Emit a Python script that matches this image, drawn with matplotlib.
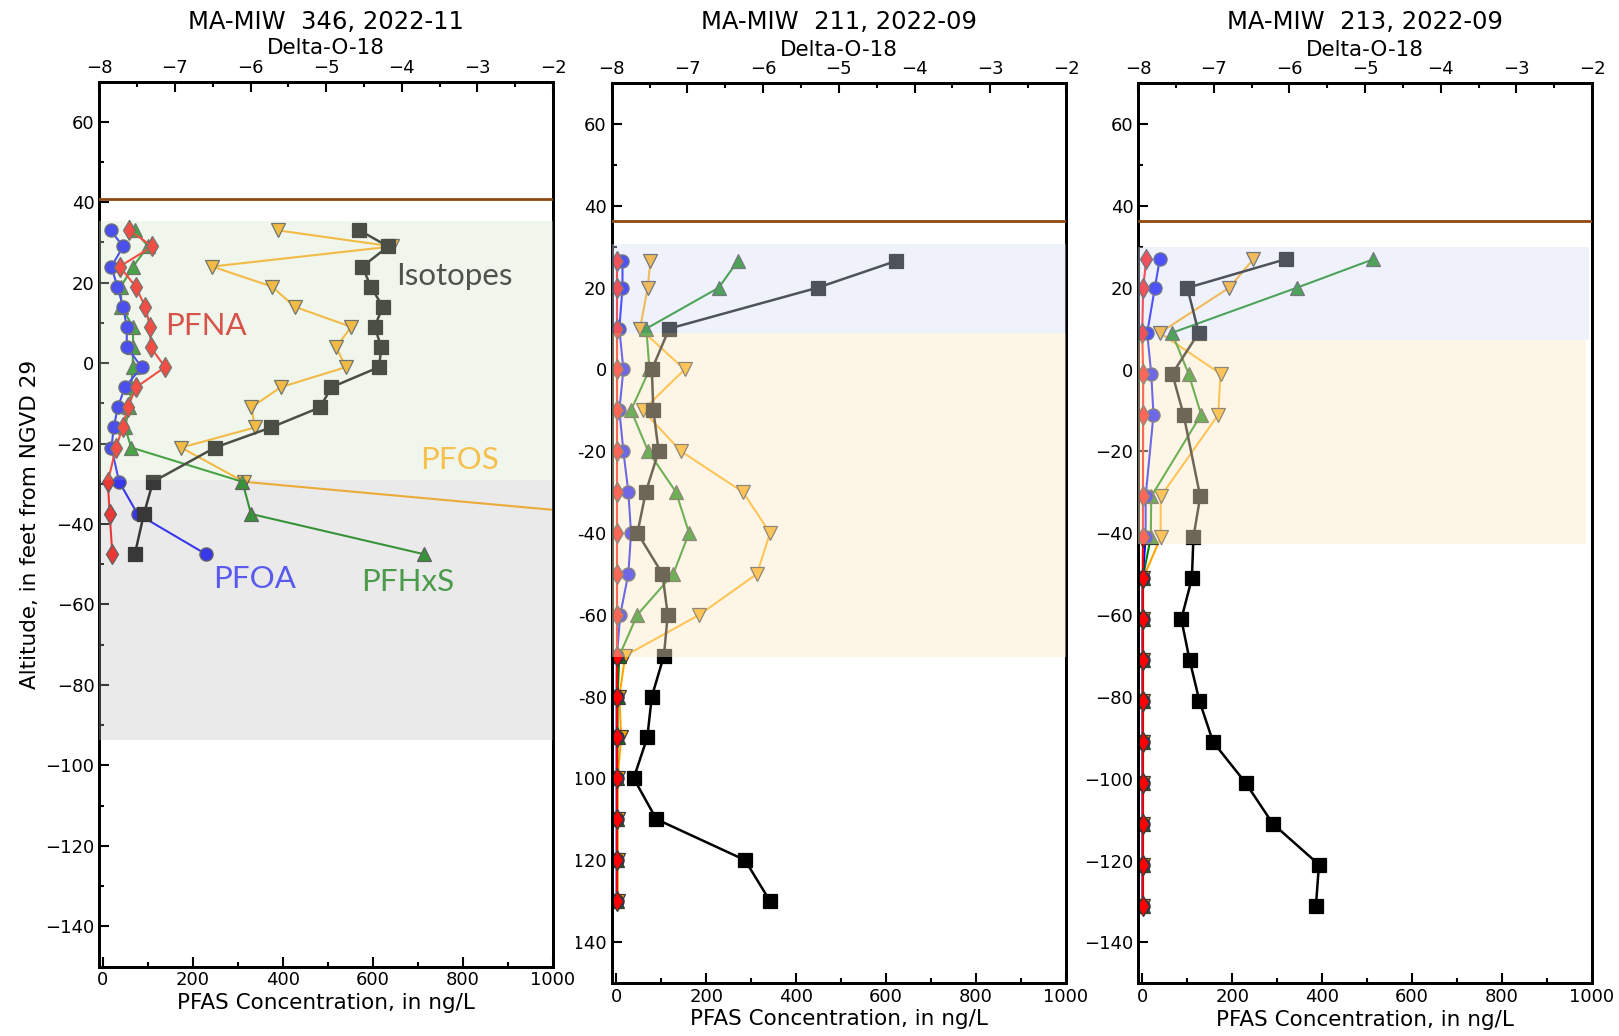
import matplotlib
matplotlib.use("Agg")
import matplotlib.pyplot as plt
from matplotlib.ticker import MultipleLocator, FuncFormatter
from matplotlib.transforms import Bbox, TransformedBbox

# ---------------- data ----------------
# MA-MIW 346, 2022-11
depth_346 = [33, 29, 24, 19, 14, 9, 4, -1, -6, -11, -16, -21, -29.5, -37.5, -47.5]
pfoa_346 = [17, 45, 19, 32, 45, 53, 53, 86, 49, 33, 24, 19, 36, 77, 229]
pfna_346 = [59, 110, 37, 73, 94, 105, 106, 138, 74, 55, 44, 29, 11, 15, 21]
pfhxs_346 = [71, 100, 67, 40, 41, 67, 67, 66, 63, 59, 49, 63, 310, 329, 713]
pfos_346 = [388, 643, 243, 376, 426, 552, 518, 540, 395, 330, 338, 174, 313, 1100, 1600]
d18o_346 = [-4.56, -4.18, -4.52, -4.41, -4.25, -4.36, -4.27, -4.30, -4.93, -5.08,
            -5.73, -6.47, -7.29, -7.41, -7.53]

# MA-MIW 211, 2022-09
depth_211 = [26.5, 20, 10, 0, -10, -20, -30, -40, -50, -60, -70, -80, -90, -100, -110, -120, -130]
pfoa_211 = [14, 14, 7, 16, 7, 16, 27, 33, 27, 9, 1.5, 1, 1, 1, 1, 1, 1]
pfna_211 = [1, 1, 1, 1, 1, 1, 1, 1, 1, 1, 1, 1, 1, 1, 1, 1, 1]
pfhxs_211 = [270, 228, 67, 74, 33, 71, 133, 162, 127, 47, 7, 3, 3, 2, 2, 2, 2]
pfos_211 = [76, 70, 53, 152, 59, 144, 282, 342, 313, 185, 20, 7, 11, 3, 3, 3, 3]
d18o_211 = [-4.25, -5.28, -7.24, -7.47, -7.45, -7.38, -7.55, -7.66, -7.33, -7.26,
            -7.31, -7.47, -7.53, -7.71, -7.41, -6.24, -5.91]

# MA-MIW 213, 2022-09
depth_213 = [27, 20, 9, -1, -11, -31, -41, -51, -61, -71, -81, -91, -101, -111, -121, -131]
pfoa_213 = [39, 28, 11, 20, 25, 7.5, 7.5, 1, 1, 1, 1, 1, 1, 1, 1, 1]
pfna_213 = [9, 2, 0, 2, 2, 1.5, 1.5, 1, 1, 1, 1, 1, 1, 1, 1, 1]
pfhxs_213 = [514, 343, 66, 103, 131, 20, 19, 1, 1, 1, 1, 1, 1, 1, 1, 1]
pfos_213 = [247, 193, 39, 174, 169, 41, 41, 2, 2, 2, 2, 2, 2, 2, 2, 2]
d18o_213 = [-6.05, -7.35, -7.20, -7.55, -7.40, -7.18, -7.27, -7.29, -7.43, -7.32,
            -7.19, -7.01, -6.58, -6.22, -5.61, -5.65]

titles = ["MA-MIW  346, 2022-11", "MA-MIW  211, 2022-09", "MA-MIW  213, 2022-09"]
land_surface = [40.8, 36.4, 36.3]

# shaded screened/aquifer zones: (top, bottom, xmax fraction, rgb, alpha)
zones_346 = [(35.3, -29.0, 1.0, (216, 230, 205), 0.345),
             (-29.0, -93.6, 1.0, (188, 188, 188), 0.30)]
zones_211 = [(30.7, 9.0, 1.0, (212, 222, 245), 0.373),
             (9.0, -70.3, 1.0, (252, 236, 200), 0.44)]
zones_213 = [(29.9, 7.2, 0.993, (212, 222, 245), 0.373),
             (7.2, -42.5, 0.986, (252, 236, 200), 0.44)]

# ---------------- figure ----------------
W, H = 1619, 1036
fig = plt.figure(figsize=(W / 100, H / 100), dpi=100)

# axes boxes in pixels: left, right, top, bottom
boxes = [(99.3, 553.0, 81.5, 966.5),
         (611.7, 1066.0, 83.3, 982.7),
         (1138.2, 1592.0, 83.3, 983.3)]
xmins = [-8, -10, -9]

C_PFOA = "#0000ff"
C_PFNA = "#ff0000"
C_PFHXS = "#008000"
C_PFOS = "#ffa500"
EDGE = "#3a3a3a"

panels = [
    (depth_346, pfoa_346, pfna_346, pfhxs_346, pfos_346, d18o_346, zones_346),
    (depth_211, pfoa_211, pfna_211, pfhxs_211, pfos_211, d18o_211, zones_211),
    (depth_213, pfoa_213, pfna_213, pfhxs_213, pfos_213, d18o_213, zones_213),
]

axes = []
for i, (box, panel) in enumerate(zip(boxes, panels)):
    l, r, t, b = box
    ax = fig.add_axes([l / W, 1 - b / H, (r - l) / W, (b - t) / H])
    depth, pfoa, pfna, pfhxs, pfos, d18o, zones = panel

    ax.set_xlim(xmins[i], 1000)
    ax.set_ylim(-150, 70)
    ax.xaxis.set_major_locator(MultipleLocator(200))
    ax.xaxis.set_minor_locator(MultipleLocator(100))
    ax.yaxis.set_major_locator(MultipleLocator(20))
    ax.yaxis.set_minor_locator(MultipleLocator(10))
    ax.tick_params(which="both", direction="in", labelsize=13, width=1.5,
                   top=False, right=False, colors="black")
    ax.tick_params(which="major", length=7)
    ax.tick_params(which="minor", length=3.5)
    if i == 1:
        ax.yaxis.set_major_formatter(FuncFormatter(lambda v, p: f"{int(round(v))}"))

    mk = dict(markeredgecolor=EDGE, markeredgewidth=0.9, lw=1.5)
    ax.plot(pfos, depth, marker="v", ms=10, color=C_PFOS, **mk)
    ax.plot(pfhxs, depth, marker="^", ms=10, color=C_PFHXS, **mk)
    ax.plot(pfoa, depth, marker="o", ms=9.5, color=C_PFOA, **mk)
    ax.plot(pfna, depth, marker="d", ms=10.5, color=C_PFNA, **mk)

    ax.set_xlabel("PFAS Concentration, in ng/L", fontsize=15.5, labelpad=2.5)
    if i == 0:
        ax.set_ylabel("Altitude, in feet from NGVD 29", fontsize=15.5)

    ax2 = ax.twiny()
    ax2.set_xlim(-8, -2)
    ax2.xaxis.set_major_locator(MultipleLocator(1))
    ax2.xaxis.set_minor_locator(MultipleLocator(0.5))
    ax2.tick_params(which="both", direction="in", labelsize=13, width=1.5)
    ax2.tick_params(which="major", length=7)
    ax2.tick_params(which="minor", length=3.5)
    ax2.set_xlabel("Delta-O-18", fontsize=15.5, labelpad=3)

    ax2.plot(d18o, depth, marker="s", ms=10, color="black",
             markeredgecolor="black", markeredgewidth=0.9, lw=1.8)

    ax2.axhline(land_surface[i], color="#8b4a14", lw=2.0, zorder=4)

    for top, bot, xmax, rgb, a in zones:
        ax2.axhspan(bot, top, xmin=0, xmax=xmax,
                    facecolor=tuple(c / 255 for c in rgb), alpha=a,
                    lw=0, zorder=6)

    for a_ in (ax, ax2):
        for sp in a_.spines.values():
            sp.set_linewidth(2.0)

    fig.text(((l + r) / 2) / W, 1 - 28.8 / H, titles[i], ha="center",
             va="baseline", fontsize=17.5)
    axes.append((ax, ax2))

# series labels on the first panel
ax, ax2 = axes[0]
lab = dict(transform=ax.transData, fontsize=22.5, family="Lato",
           ha="left", va="baseline", zorder=8)
ax2.text(651, 19.5, "Isotopes", color="#4d524d", **lab)
ax2.text(138, 7.0, "PFNA", color="#d6544c", **lab)
ax2.text(705, -26.4, "PFOS", color="#f6c04c", **lab)
ax2.text(245, -55.9, "PFOA", color="#5a5aee", **lab)
ax2.text(574, -56.6, "PFHxS", color="#4c9a4c", **lab)

# middle panel's altitude labels are trimmed at the panel's left border
fig.canvas.draw()
clip = TransformedBbox(Bbox.from_extents(576 / W, 0, 1, 1), fig.transFigure)
for lbl in axes[1][0].get_yticklabels():
    lbl.set_clip_box(clip)
    lbl.set_clip_on(True)

fig.savefig("out.png", dpi=100)
